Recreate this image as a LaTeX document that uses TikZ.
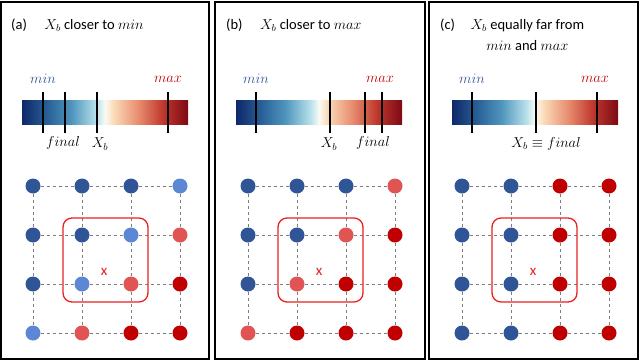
\documentclass[tikz,border=0pt]{standalone}
\usepackage{fontspec}
\setmainfont{Carlito}
\usepackage{tikz}
\usetikzlibrary{positioning}
\definecolor{dkblue}{RGB}{47,85,151}
\definecolor{ltblue}{RGB}{91,135,212}
\definecolor{ltred}{RGB}{224,84,84}
\definecolor{dkred}{RGB}{192,0,0}
\definecolor{gridgray}{RGB}{125,125,125}
\definecolor{boxred}{RGB}{235,30,30}
\definecolor{bar0}{RGB}{15,40,105}
\definecolor{bar1}{RGB}{40,95,150}
\definecolor{bar2}{RGB}{80,150,190}
\definecolor{bar3}{RGB}{185,225,235}
\definecolor{bar4}{RGB}{250,250,245}
\definecolor{bar5}{RGB}{250,220,185}
\definecolor{bar6}{RGB}{232,140,110}
\definecolor{bar7}{RGB}{190,55,45}
\definecolor{bar8}{RGB}{125,10,20}
\pgfdeclarehorizontalshading{rdbu}{100bp}{color(0bp)=(bar0); color(25bp)=(bar0);
  color(32.5bp)=(bar1); color(40bp)=(bar2); color(47.5bp)=(bar3); color(50bp)=(bar4);
  color(52.5bp)=(bar5); color(60bp)=(bar6); color(67.5bp)=(bar7); color(75bp)=(bar8);
  color(100bp)=(bar8)}
\tikzset{
  panel/.style  = {draw=black, line width=1.2pt},
  title/.style  = {inner sep=0pt, font=\fontsize{14.5}{17}\selectfont},
  bar/.style    = {shading=rdbu, minimum width=166pt, minimum height=24pt, inner sep=0pt},
  tick/.style   = {line width=1.1pt},
  endlbl/.style = {inner sep=1pt, font=\fontsize{14}{16}\selectfont},
  vallbl/.style = {inner sep=1pt, font=\fontsize{14.5}{17}\selectfont},
  dot/.style    = {circle, minimum size=15pt, inner sep=0pt},
  link/.style   = {draw=gridgray, dashed, line width=0.9pt},
  win/.style    = {draw=boxred, line width=1.3pt, rounded corners=9pt},
  xmark/.style  = {text=boxred, inner sep=0pt, font=\fontsize{15}{17}\selectfont},
}
% dot colours per panel, row by row
\def\colsa{dkblue,dkblue,dkblue,ltblue, dkblue,dkblue,ltblue,ltred, dkblue,ltblue,ltred,dkred, ltblue,ltred,dkred,dkred}
\def\colsb{dkblue,dkblue,dkblue,ltred, dkblue,dkblue,ltred,dkred, dkblue,ltred,dkred,dkred, ltred,dkred,dkred,dkred}
\def\colsc{dkblue,dkblue,dkred,dkred, dkblue,dkblue,dkred,dkred, dkblue,dkblue,dkred,dkred, dkblue,dkblue,dkred,dkred}
\begin{document}
\begin{tikzpicture}[x=1pt,y=-1pt]
\useasboundingbox (0,0) rectangle (640,362);
\draw[panel] (1,2) rectangle (209,359);
\draw[panel] (215,2) rectangle (425,359);
\draw[panel] (429,2) rectangle (638,359);

% (a)
\node[title, anchor=base west] (la) at (11,29) {(a)};
\node[title, base right=17pt of la] (ta) {$X_b$ closer to $min$};
\node[bar] (bara) at (105,112) {};
\draw[tick] (43,92) -- (43,133);
\draw[tick] (65,92) -- (65,133);
\draw[tick] (97,92) -- (97,133);
\draw[tick] (168,92) -- (168,133);
\node[endlbl, text=dkblue] (mina) at (43,79) {$min$};
\node[endlbl, text=dkred] (maxa) at (168,79) {$max$};
\node[vallbl] (fina) at (63,143) {$final$};
\node[vallbl] (xba) at (100,144) {$X_b$};

% (b)
\begin{scope}[xshift=215pt]
\node[title, anchor=base west] (lb) at (11,29) {(b)};
\node[title, base right=17pt of lb] (tb) {$X_b$ closer to $max$};
\node[bar] (barb) at (104,112) {};
\draw[tick] (41,92) -- (41,133);
\draw[tick] (115,92) -- (115,133);
\draw[tick] (150,92) -- (150,133);
\draw[tick] (167,92) -- (167,133);
\node[endlbl, text=dkblue] (minb) at (41,79) {$min$};
\node[endlbl, text=dkred] (maxb) at (165,79) {$max$};
\node[vallbl] (xbb) at (114,144) {$X_b$};
\node[vallbl] (finb) at (158,143) {$final$};
\end{scope}

% (c)
\begin{scope}[xshift=429pt]
\node[title, anchor=base west] (lc) at (11,29) {(c)};
\node[title, base right=15pt of lc] (tc) {$X_b$ equally far from};
\node[title, anchor=base] (tc2) at ([yshift=-21pt]tc.base) {$min$ and $max$};
\node[bar] (barc) at (106,112) {};
\draw[tick] (43,92) -- (43,133);
\draw[tick] (107,92) -- (107,133);
\draw[tick] (168,92) -- (168,133);
\node[endlbl, text=dkblue] (minc) at (43,79) {$min$};
\node[endlbl, text=dkred] (maxc) at (166,79) {$max$};
\node[vallbl] (xbc) at (117,144) {$X_b\equiv final$};
\end{scope}

% grids
\foreach \p/\dx in {a/0,b/215,c/429}{
  \begin{scope}[xshift=\dx pt]
  \edef\cols{\csname cols\p\endcsname}
  \foreach \c [count=\n from 0] in \cols {
    \pgfmathtruncatemacro\r{div(\n,4)}
    \pgfmathtruncatemacro\k{mod(\n,4)}
    \node[dot, fill=\c] (\p-\r-\k) at (33+49*\k,186+49*\r) {};
  }
  \foreach \r in {0,...,3}
    \foreach \k/\kn in {0/1,1/2,2/3}
      \draw[link] (\p-\r-\k) -- (\p-\r-\kn);
  \foreach \r/\rn in {0/1,1/2,2/3}
    \foreach \k in {0,...,3}
      \draw[link] (\p-\r-\k) -- (\p-\rn-\k);
  \draw[win] (63,218) rectangle (148,302);
  \node[xmark] (x\p) at (104,272) {x};
  \end{scope}
}
\end{tikzpicture}
\end{document}
